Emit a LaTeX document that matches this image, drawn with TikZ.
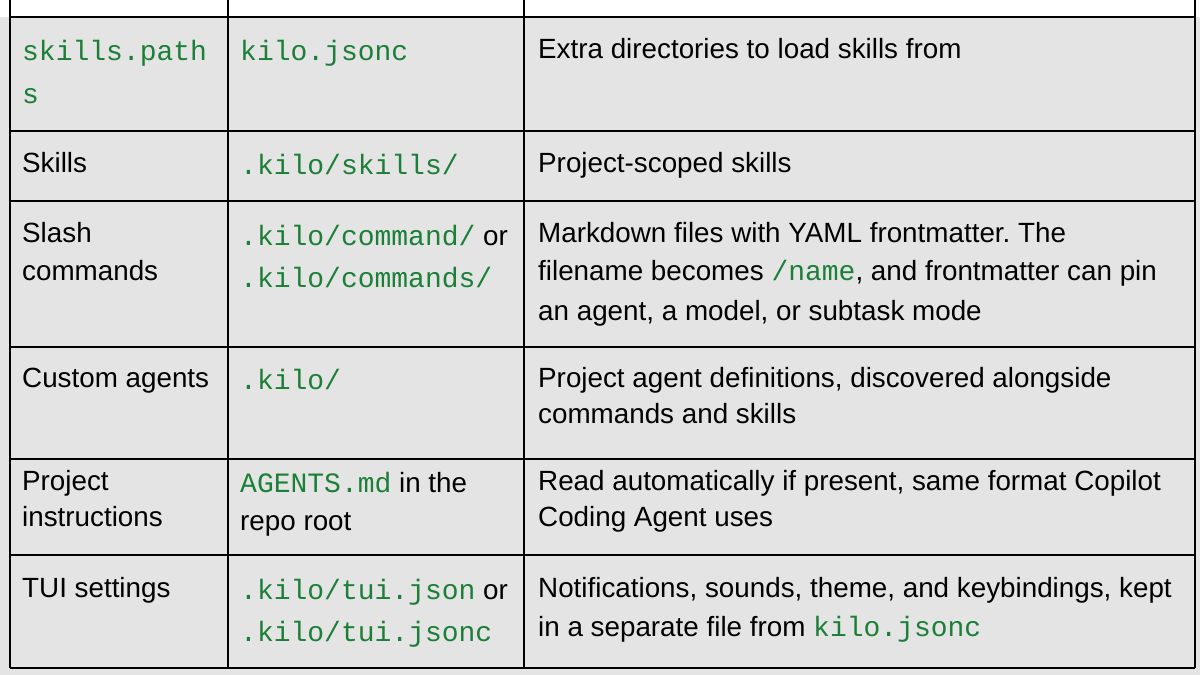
\documentclass[tikz,border=0pt]{standalone}
\usepackage{fontspec}
\setmainfont{Liberation Sans}
\setmonofont{Liberation Mono}
\definecolor{codegreen}{HTML}{1B7F37}
\definecolor{gridbg}{HTML}{E4E4E4}
\newcommand{\cd}[1]{{\fontsize{28}{30}\selectfont\ttfamily\color{codegreen}#1}}
\begin{document}
\frenchspacing
\begin{tikzpicture}[x=1pt,y=-1pt,
  txt/.style={anchor=base west,inner sep=0pt,font=\fontsize{27.8}{30}\selectfont},
  rule/.style={line width=2.2pt,black}]
\useasboundingbox (0,0) rectangle (1200,675);
\fill[white] (0,0) rectangle (1200,675);
\fill[gridbg] (0,17) rectangle (1200,675);
\fill[white] (10,0) rectangle (1195,17);
% table lines
\foreach \yy in {17,131,201,347,459,555,668}{\draw[rule] (10,\yy) -- (1195,\yy);}
\foreach \xx in {10,228,524,1195}{\draw[rule] (\xx,0) -- (\xx,668);}
% row 1
\node[txt] (a1) at (22,60) {\cd{skills.path}};
\node[txt] (a1b) at (22,103) {\cd{s}};
\node[txt] (b1) at (240,60) {\cd{kilo.jsonc}};
\node[txt] (c1) at (538,58) {Extra directories to load skills from};
% row 2
\node[txt] (a2) at (22,172) {Skills};
\node[txt] (b2) at (240,174) {\cd{.kilo/skills/}};
\node[txt] (c2) at (538,172) {Project-scoped skills};
% row 3
\node[txt] (a3) at (22,242) {Slash};
\node[txt] (a3b) at (22,280) {commands};
\node[txt] (b3) at (240,245) {\cd{.kilo/command/} or};
\node[txt] (b3b) at (240,287) {\cd{.kilo/commands/}};
\node[txt] (c3) at (538,242) {Markdown files with YAML frontmatter. The};
\node[txt] (c3b) at (538,280) {filename becomes \cd{/name}, and frontmatter can pin};
\node[txt] (c3c) at (538,320) {an agent, a model, or subtask mode};
% row 4
\node[txt] (a4) at (22,387) {Custom agents};
\node[txt] (b4) at (240,389) {\cd{.kilo/}};
\node[txt] (c4) at (538,387) {Project agent definitions, discovered alongside};
\node[txt] (c4b) at (538,423) {commands and skills};
% row 5
\node[txt] (a5) at (22,490) {Project};
\node[txt] (a5b) at (22,526) {instructions};
\node[txt] (b5) at (240,492) {\cd{AGENTS.md} in the};
\node[txt] (b5b) at (240,530) {repo root};
\node[txt] (c5) at (538,490) {Read automatically if present, same format Copilot};
\node[txt] (c5b) at (538,526) {Coding Agent uses};
% row 6
\node[txt] (a6) at (22,597) {TUI settings};
\node[txt] (b6) at (240,599) {\cd{.kilo/tui.json} or};
\node[txt] (b6b) at (240,641) {\cd{.kilo/tui.jsonc}};
\node[txt] (c6) at (538,597) {Notifications, sounds, theme, and keybindings, kept};
\node[txt] (c6b) at (538,636) {in a separate file from \cd{kilo.jsonc}};
\end{tikzpicture}
\end{document}
